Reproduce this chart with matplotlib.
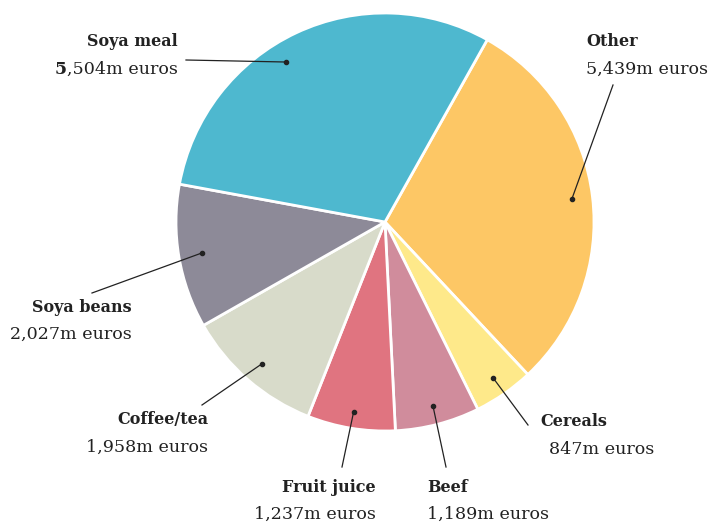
import matplotlib
matplotlib.use("Agg")
import matplotlib.pyplot as plt
import numpy as np

categories = ["Other", "Cereals", "Beef", "Fruit juice", "Coffee/tea", "Soya beans", "Soya meal"]
values = [5439, 847, 1189, 1237, 1958, 2027, 5504]
value_labels = ["5,439m euros", "847m euros", "1,189m euros", "1,237m euros",
                "1,958m euros", "2,027m euros", "5,504m euros"]
colors = ["#fdc765", "#fee98a", "#d08c9c", "#e07480", "#d8dbca", "#8d8a98", "#4eb8cf"]

W, H = 711, 524
fig = plt.figure(figsize=(W / 100, H / 100), dpi=100)
ax = fig.add_axes([0, 0, 1, 1])
ax.set_xlim(0, W)
ax.set_ylim(0, H)
ax.set_aspect("equal")
ax.axis("off")

cx, cy, R = 385, H - 222, 209
wedges, _ = ax.pie(values, colors=colors, startangle=60.7, counterclock=False,
                   center=(cx, cy), radius=R, frame=True,
                   wedgeprops=dict(edgecolor="white", linewidth=2))
ax.set_xlim(0, W)
ax.set_ylim(0, H)
ax.axis("off")

# label layout: (text anchor x, y of bold line in px from top, ha, end of leader line px, angle nudge, dot radius fraction)
layout = {
    "Other":       (586, 42, "left",  (613, 85), 0, 0.90),
    "Cereals":     (540, 422, "left", (528, 425), 0, 0.91),
    "Beef":        (427, 487, "left", (446, 467), 0, 0.91),
    "Fruit juice": (376, 487, "right", (342, 467), 0, 0.92),
    "Coffee/tea":  (208, 420, "right", (202, 405), 0, 0.90),
    "Soya beans":  (132, 307, "right", (92, 293), 0, 0.89),
    "Soya meal":   (178, 42, "right", (186, 60), 6.6, 0.90),
}
value_dx = {"Cereals": 9}

serif = ["DejaVu Serif"]
fs_b = 11.5
fs_v = 12.6
gap = 27
for w, cat, vl in zip(wedges, categories, value_labels):
    tx, ty, ha, lend, nudge, frac = layout[cat]
    ang = np.deg2rad((w.theta1 + w.theta2) / 2 + nudge)
    dx_ = cx + frac * R * np.cos(ang)
    dy_ = cy + frac * R * np.sin(ang)
    ax.plot([dx_, lend[0]], [dy_, H - lend[1]], color="#222222", lw=0.9, zorder=5)
    ax.plot(dx_, dy_, "o", color="#222222", ms=3, zorder=6)
    ax.text(tx, H - ty, cat, ha=ha, va="center", fontsize=fs_b, fontweight="bold",
            family=serif, color="#222222")
    vx = tx + value_dx.get(cat, 0)
    if cat == "Soya meal":
        t = ax.text(vx, H - ty - gap, vl[1:], ha="right", va="center", fontsize=fs_v,
                    family=serif, color="#222222")
        fig.canvas.draw()
        bb = t.get_window_extent()
        ax.text(bb.x0, H - ty - gap, vl[0], ha="right", va="center", fontsize=fs_v,
                fontweight="bold", family=serif, color="#222222")
    else:
        ax.text(vx, H - ty - gap, vl, ha=ha, va="center", fontsize=fs_v,
                family=serif, color="#222222")

fig.savefig("out.png", dpi=100, facecolor="white")
